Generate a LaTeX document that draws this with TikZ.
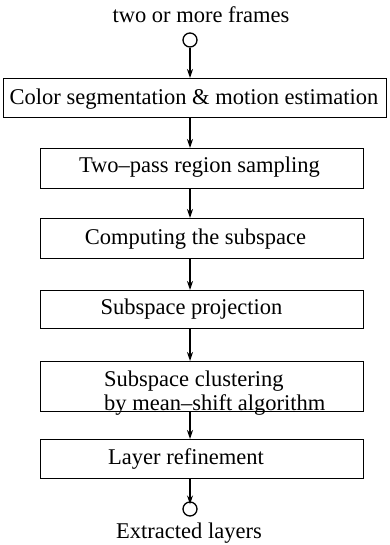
\documentclass[tikz,border=0pt]{standalone}
\usepackage{fontspec}
\setmainfont{Liberation Serif}
\usetikzlibrary{arrows.meta}
\begin{document}
\begin{tikzpicture}[x=1pt,y=-1pt,
  box/.style={draw,line width=1.3pt,minimum width=323pt,minimum height=40pt,inner sep=0pt,anchor=north west},
  lbl/.style={font=\fontsize{22.5}{22.5}\selectfont,anchor=base,inner sep=0pt},
  lblw/.style={lbl,anchor=base west},
  term/.style={draw,circle,line width=1.3pt,minimum size=14pt,inner sep=0pt},
  arr/.style={line width=1.3pt,-{Stealth[length=9pt,width=6pt]}}]
\useasboundingbox (0,0) rectangle (389,545);
% terminals
\node[term] (c1) at (190,40) {};
\node[term] (c2) at (190,509) {};
% boxes
\node[box,minimum width=383pt,minimum height=39pt] (b1) at (3,78) {};
\node[box] (b2) at (40,148) {};
\node[box] (b3) at (40,218) {};
\node[box,minimum height=38pt] (b4) at (40,290) {};
\node[box,minimum height=50pt] (b5) at (40,361) {};
\node[box,minimum height=39pt] (b6) at (40,439) {};
% texts
\node[lbl] (t0) at (201,23) {two or more frames};
\node[lbl] (t1) at (194,105) {Color segmentation \& motion estimation};
\node[lbl] (t2) at (199.5,173) {Two–pass region sampling};
\node[lbl] (t3) at (195.5,244) {Computing the subspace};
\node[lbl] (t4) at (191.5,314) {Subspace projection};
\node[lblw] (t5a) at (104,386) {Subspace clustering};
\node[lblw] (t5b) at (104,410) {by mean–shift algorithm};
\node[lbl] (t6) at (186,464) {Layer refinement};
\node[lbl] (t7) at (189,538) {Extracted layers};
% arrows
\draw[arr] (c1.south) -- (c1.south |- b1.north);
\draw[arr] (b1.south -| c1) -- (b2.north -| c1);
\draw[arr] (b2.south -| c1) -- (b3.north -| c1);
\draw[arr] (b3.south -| c1) -- (b4.north -| c1);
\draw[arr] (b4.south -| c1) -- (b5.north -| c1);
\draw[arr] (b5.south -| c1) -- (b6.north -| c1);
\draw[arr] (b6.south -| c2) -- ([yshift=-3pt]c2.north);
\end{tikzpicture}
\end{document}
